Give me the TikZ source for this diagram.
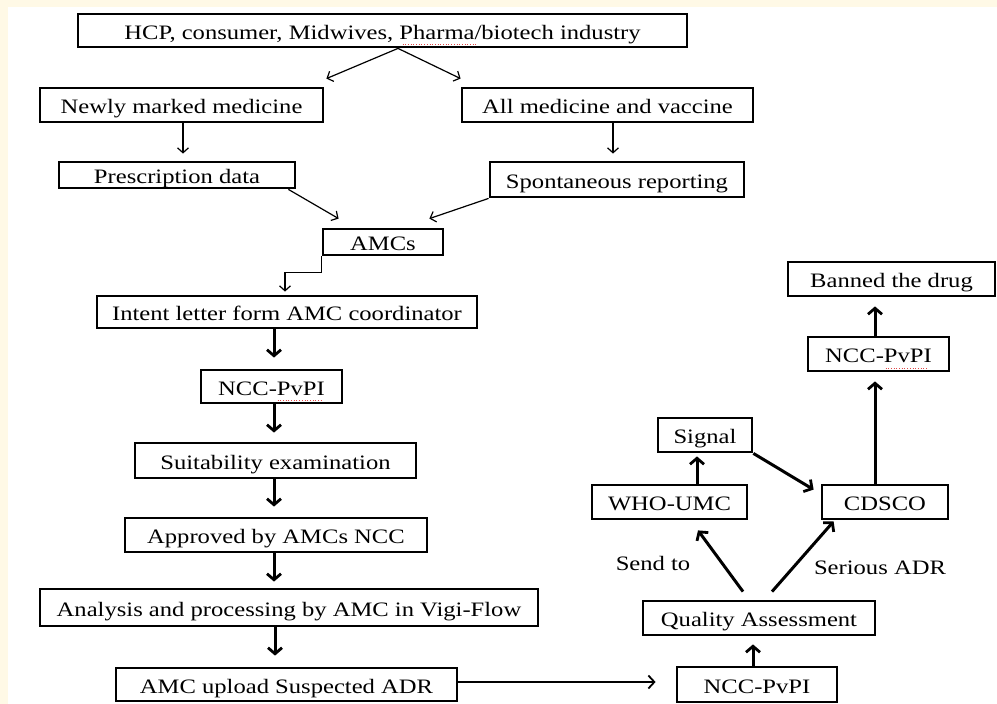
\documentclass[tikz,border=0pt]{standalone}
\usepackage{fontspec}
\setmainfont{Liberation Serif}[FakeStretch=1.2]
\usetikzlibrary{arrows.meta,calc}
\definecolor{cream}{HTML}{FFF9E6}
\definecolor{squig}{HTML}{E04848}
\newcommand{\dsp}{\hspace{0.3em}}
\newcommand{\mkbox}[6]{\node[box,minimum width=#4pt,minimum height=#5pt] (#1) at (#2,#3) {#6};}
\begin{document}
\begin{tikzpicture}[x=1pt,y=-1pt,
  box/.style={draw,line width=2.8pt,fill=white,inner sep=0pt,text=black,
    text height=18pt,text depth=1pt,
    font=\fontsize{20.5}{23}\selectfont},
  lbl/.style={inner sep=0pt,font=\fontsize{20.5}{23}\selectfont},
  thinarr/.style={line width=1.2pt,-{Straight Barb[length=5pt,width=11pt,line width=1.2pt]}},
  medarr/.style={line width=1.8pt,-{Straight Barb[length=6pt,width=13pt,line width=1.8pt]}},
  thickarr/.style={line width=3pt,-{Straight Barb[length=6pt,width=14pt,line width=2.8pt]}},
  squiggle/.style={draw=squig,line width=0.7pt,dotted}]
\useasboundingbox (0,0) rectangle (997,704);
\fill[cream] (0,0) rectangle (997,704);
\fill[white] (8,7) rectangle (997,704);
\coordinate (colx) at (274,0);
\coordinate (rcol) at (875,0);
% boxes
\mkbox{top}{382.5}{30.5}{609}{33}{HCP, consumer,\dsp Midwives,\dsp Pharma/biotech\dsp industry}
\mkbox{newly}{181.5}{105}{283}{34}{Newly marked medicine}
\mkbox{allmed}{607.5}{105}{291}{34}{All medicine\dsp and vaccine}
\mkbox{presc}{177}{175}{236}{26}{Prescription data}
\mkbox{spont}{617}{179.5}{254}{35}{Spontaneous\dsp reporting}
\mkbox{amcs}{383}{242}{120}{26}{AMCs}
\mkbox{intent}{287}{312}{380}{32}{Intent letter\dsp form AMC\dsp coordinator}
\mkbox{ncca}{271.5}{386.5}{141}{33}{NCC-PvPI}
\mkbox{suit}{275.5}{460.5}{281}{35}{Suitability examination}
\mkbox{appr}{276}{535}{302}{34}{Approved by AMCs NCC}
\mkbox{anal}{289}{607.5}{498}{37}{Analysis and processing\dsp by AMC in Vigi-Flow}
\mkbox{upload}{286.5}{684.5}{341}{33}{AMC upload Suspected\dsp ADR}
\mkbox{nccb}{757}{684.5}{160}{35}{NCC-PvPI}
\mkbox{qa}{759}{618}{232}{34}{Quality Assessment}
\mkbox{who}{669.5}{502}{155}{34}{WHO-UMC}
\mkbox{cdsco}{885}{502}{126}{34}{CDSCO}
\mkbox{signal}{705}{435}{94}{34}{Signal}
\mkbox{nccc}{878.5}{354}{141}{34}{NCC-PvPI}
\mkbox{banned}{891.5}{279}{207}{34}{Banned\dsp the drug}
% spell-check marks
\draw[squiggle] ($(top.south)+(20,-4)$) -- ++(75,0);
\draw[squiggle] ($(ncca.south)+(6,-4)$) -- ++(44,0);
\draw[squiggle] ($(nccc.south)+(7,-4)$) -- ++(42,0);
% labels
\node[lbl] (sendto) at (653,563) {Send to};
\node[lbl] (serious) at (880,568) {Serious ADR};
% thin connectors
\draw[thinarr] ($(top.south)+(15.5,0)$) -- ($(newly.north east)+(2,-8)$);
\draw[thinarr] ($(top.south)+(15.5,0)$) -- ($(allmed.north west)+(0,-8)$);
\draw[thinarr] ($(newly.south)+(1.5,0)$) -- ($(presc.north)+(6,-7)$);
\draw[thinarr] ($(allmed.south)+(5.5,0)$) -- ($(spont.north)+(-4,-7)$);
\draw[thinarr] ($(presc.south east)+(-8,0)$) -- ($(amcs.north west)+(17,-9)$);
\draw[thinarr] (spont.south west) -- ($(amcs.north east)+(-15,-9)$);
\draw[thinarr] (amcs.south west) -- ++(0,16) -| ($(intent.north)+(-2,-3)$);
% thick left column
\draw[thickarr] (intent.south -| colx) -- ($(ncca.north -| colx)+(0,-11)$);
\draw[thickarr] (ncca.south -| colx) -- ($(suit.north -| colx)+(0,-9)$);
\draw[thickarr] (suit.south -| colx) -- ($(appr.north -| colx)+(0,-10)$);
\draw[thickarr] (appr.south -| colx) -- ($(anal.north -| colx)+(0,-6)$);
\draw[thickarr] ($(anal.south -| colx)+(1,0)$) -- ($(upload.north -| colx)+(1,-11)$);
% bottom and right part
\draw[medarr] ($(upload.east)+(0,-2.5)$) -- ($(nccb.west)+(-20,-2.5)$);
\draw[thickarr] ($(nccb.north)+(-4,0)$) -- ($(qa.south)+(-6,8)$);
\draw[thickarr] ($(qa.north)+(-16,-8)$) -- ($(who.south)+(28.5,10)$);
\draw[thickarr] ($(qa.north)+(13,-8)$) -- ($(cdsco.south west)+(13,1)$);
\draw[thickarr] ($(who.north)+(27.5,0)$) -- ($(signal.south)+(-8,3)$);
\draw[thickarr] (signal.south east) -- ($(cdsco.north west)+(-7,6)$);
\draw[thickarr] (cdsco.north -| rcol) -- ($(nccc.south -| rcol)+(0,9)$);
\draw[thickarr] (nccc.north -| rcol) -- ($(banned.south -| rcol)+(0,9)$);
\end{tikzpicture}
\end{document}
